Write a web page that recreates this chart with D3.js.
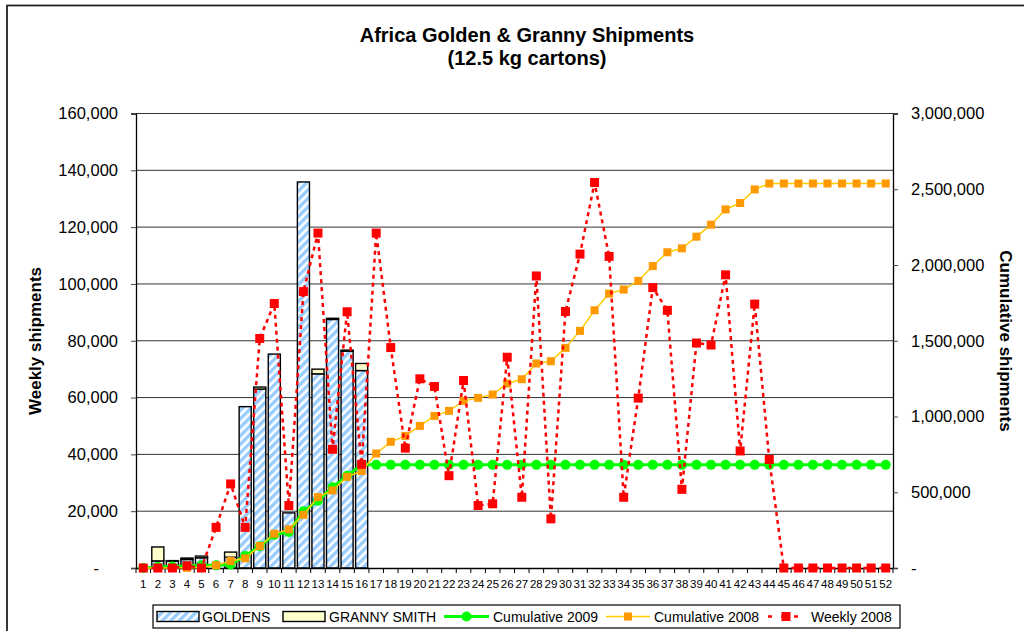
<!DOCTYPE html>
<html>
<head>
<meta charset="utf-8">
<script src="https://cdn.jsdelivr.net/npm/d3@7"></script>
<style>
  body { margin: 0; background: #fff; }
  svg { font-family: "Liberation Sans", Arial, sans-serif; }
</style>
</head>
<body>
<div id="chart"></div>
<script>
// Data
const weeks = [1, 2, 3, 4, 5, 6, 7, 8, 9, 10, 11, 12, 13, 14, 15, 16, 17, 18, 19, 20,
  21, 22, 23, 24, 25, 26, 27, 28, 29, 30, 31, 32, 33, 34, 35, 36, 37, 38, 39, 40,
  41, 42, 43, 44, 45, 46, 47, 48, 49, 50, 51, 52];

const barWeeks = [1, 2, 3, 4, 5, 6, 7, 8, 9, 10, 11, 12, 13, 14, 15, 16];
const goldens = [0, 2500, 2400, 3000, 3600, 0, 3800, 56800, 63000, 75300, 19400,
  135900, 68350, 87500, 76300, 69500];
const grannySmith = [0, 4900, 200, 500, 600, 0, 1800, 0, 700, 0, 0, 0, 1650, 400,
  400, 2500];

const cumulative2009 = [0, 7400, 9900, 13300, 17500, 17500, 23200, 80000, 143700,
  219000, 238400, 374300, 444300, 532200, 608900, 680900, 680900, 680900, 680900,
  680900, 680900, 680900, 680900, 680900, 680900, 680900, 680900, 680900, 680900,
  680900, 680900, 680900, 680900, 680900, 680900, 680900, 680900, 680900, 680900,
  680900, 680900, 680900, 680900, 680900, 680900, 680900, 680900, 680900, 680900,
  680900, 680900, 680900];

const cumulative2008 = [0, 0, 0, 1000, 1000, 17800, 46000, 64000, 145000, 226000,
  255000, 351000, 468000, 512000, 602000, 640000, 756000, 833000, 872000, 938000,
  1004000, 1037000, 1103000, 1123000, 1145000, 1218000, 1246000, 1350000, 1365000,
  1453000, 1565000, 1701000, 1811000, 1838000, 1895000, 1993000, 2084000, 2110000,
  2187000, 2266000, 2367000, 2409000, 2499000, 2538000, 2538000, 2538000, 2538000,
  2538000, 2538000, 2538000, 2538000, 2538000];

const weekly2008 = [0, 0, 0, 800, 0, 14300, 29600, 14300, 80800, 93100, 22000, 97300,
  117900, 41800, 90200, 36500, 117900, 77600, 42200, 66600, 63900, 32500, 66000,
  22000, 22600, 74200, 24900, 102800, 17300, 90300, 110500, 135700, 109700, 24900,
  59800, 98700, 90700, 27700, 79200, 78500, 103200, 41200, 92900, 38200, 0, 0, 0, 0,
  0, 0, 0, 0];

const weeklyTicks = [0, 20000, 40000, 60000, 80000, 100000, 120000, 140000, 160000];
const cumulativeTicks = [0, 500000, 1000000, 1500000, 2000000, 2500000, 3000000];

const titleLines = ["Africa Golden & Granny Shipments", "(12.5 kg cartons)"];

function draw() {
  // Dimensions
  let dimensions = {
    width: 1024,
    height: 631,
    margin: {
      top: 113.5,
      bottom: 63,
      left: 136,
      right: 131,
    },
  };
  dimensions.containerWidth =
    dimensions.width - dimensions.margin.left - dimensions.margin.right;
  dimensions.containerHeight =
    dimensions.height - dimensions.margin.top - dimensions.margin.bottom;

  const svg = d3
    .select("#chart")
    .append("svg")
    .attr("width", dimensions.width)
    .attr("height", dimensions.height);

  // hatch for goldens
  const defs = svg.append("defs");
  const hatch = defs
    .append("pattern")
    .attr("id", "hatch")
    .attr("patternUnits", "userSpaceOnUse")
    .attr("width", 6)
    .attr("height", 6)
    .attr("patternTransform", "rotate(45)");
  hatch.append("rect").attr("width", 6).attr("height", 6).attr("fill", "#fff");
  hatch.append("rect").attr("width", 3.4).attr("height", 6).attr("fill", "#99ccff");

  // chart border
  svg
    .append("rect")
    .attr("x", 7)
    .attr("y", 5.5)
    .attr("width", 1040)
    .attr("height", 660)
    .attr("fill", "none")
    .attr("stroke", "#222")
    .attr("stroke-width", 1.8);

  // Title
  svg
    .append("g")
    .selectAll("text")
    .data(titleLines)
    .join("text")
    .attr("x", 527)
    .attr("y", (d, i) => 42 + i * 23)
    .attr("text-anchor", "middle")
    .attr("font-size", 20)
    .attr("font-weight", "bold")
    .text((d) => d);

  const container = svg
    .append("g")
    .attr(
      "transform",
      `translate(${dimensions.margin.left}, ${dimensions.margin.top})`
    );

  // Scales
  const xScale = d3
    .scaleBand()
    .domain(weeks)
    .range([0, dimensions.containerWidth])
    .paddingInner(0.17)
    .paddingOuter(0.085);
  const yScale = d3
    .scaleLinear()
    .domain([0, 160000])
    .range([dimensions.containerHeight, 0]);
  const yRightScale = d3
    .scaleLinear()
    .domain([0, 3000000])
    .range([dimensions.containerHeight, 0]);

  const cx = (w) => xScale(w) + xScale.bandwidth() / 2;

  // Gridlines
  container
    .append("g")
    .selectAll("line")
    .data(weeklyTicks.slice(1))
    .join("line")
    .attr("x1", 0)
    .attr("x2", dimensions.containerWidth)
    .attr("y1", (d) => yScale(d))
    .attr("y2", (d) => yScale(d))
    .attr("stroke", "#333")
    .attr("stroke-width", 1);

  // Bars
  const table = barWeeks.map((w, i) => ({
    week: w,
    goldens: goldens[i],
    granny: grannySmith[i],
  }));
  const stacked = d3.stack().keys(["goldens", "granny"])(table);
  const fills = { goldens: "url(#hatch)", granny: "#ffffcc" };

  container
    .append("g")
    .selectAll("g")
    .data(stacked)
    .join("g")
    .attr("fill", (s) => fills[s.key])
    .selectAll("rect")
    .data((s) => s.filter((d) => d[1] - d[0] > 0))
    .join("rect")
    .attr("x", (d) => xScale(d.data.week))
    .attr("width", xScale.bandwidth())
    .attr("y", (d) => yScale(d[1]))
    .attr("height", (d) => yScale(d[0]) - yScale(d[1]))
    .attr("stroke", "#000")
    .attr("stroke-width", 1.4);

  // Axes
  const xAxis = d3.axisBottom(xScale).tickSize(0).tickSizeOuter(0);
  const xAxisGroup = container
    .append("g")
    .call(xAxis)
    .attr("transform", `translate(0, ${dimensions.containerHeight})`);
  xAxisGroup.select(".domain").attr("stroke", "#000").attr("stroke-width", 1.3);
  xAxisGroup
    .selectAll("text")
    .attr("y", 20)
    .attr("dy", null)
    .attr("font-size", 11.5)
    .attr("fill", "#000");

  // tick marks between categories
  const step = xScale.step();
  xAxisGroup
    .append("g")
    .selectAll("line")
    .data(weeks.concat([53]))
    .join("line")
    .attr("x1", (d, i) => i * step)
    .attr("x2", (d, i) => i * step)
    .attr("y1", 0)
    .attr("y2", 5)
    .attr("stroke", "#000");

  const yAxis = d3
    .axisLeft(yScale)
    .tickValues(weeklyTicks)
    .tickSize(5)
    .tickPadding(13)
    .tickFormat((d) => (d === 0 ? "-" : d3.format(",")(d)));
  const yAxisGroup = container.append("g").call(yAxis);
  yAxisGroup.select(".domain").attr("stroke", "#000").attr("stroke-width", 1.3);
  yAxisGroup.selectAll(".tick line").attr("stroke", "#444");
  yAxisGroup
    .selectAll("text")
    .attr("font-size", 16.5)
    .attr("fill", "#000")
    .filter((d) => d === 0)
    .attr("x", -37);

  const yRightAxis = d3
    .axisRight(yRightScale)
    .tickValues(cumulativeTicks)
    .tickSize(5)
    .tickPadding(13)
    .tickFormat((d) => (d === 0 ? "-" : d3.format(",")(d)));
  const yRightGroup = container
    .append("g")
    .attr("transform", `translate(${dimensions.containerWidth}, 0)`)
    .call(yRightAxis);
  yRightGroup.select(".domain").attr("stroke", "#000").attr("stroke-width", 1.3);
  yRightGroup.selectAll(".tick line").attr("stroke", "#444");
  yRightGroup.selectAll("text").attr("font-size", 16.5).attr("fill", "#000");

  // Axis titles
  svg
    .append("text")
    .attr("transform", `translate(41, 341) rotate(-90)`)
    .attr("text-anchor", "middle")
    .attr("font-size", 17)
    .attr("font-weight", "bold")
    .text("Weekly shipments");
  svg
    .append("text")
    .attr("transform", `translate(1000, 341) rotate(90)`)
    .attr("text-anchor", "middle")
    .attr("font-size", 17)
    .attr("font-weight", "bold")
    .text("Cumulative shipments");

  // Lines
  const cumLine = d3
    .line()
    .x((d, i) => cx(weeks[i]))
    .y((d) => yRightScale(d));
  const weeklyLine = d3
    .line()
    .x((d, i) => cx(weeks[i]))
    .y((d) => yScale(d));

  // Cumulative 2009
  container
    .append("path")
    .attr("d", cumLine(cumulative2009))
    .attr("fill", "none")
    .attr("stroke", "#00ff00")
    .attr("stroke-width", 3);
  container
    .append("g")
    .selectAll("circle")
    .data(cumulative2009)
    .join("circle")
    .attr("cx", (d, i) => cx(weeks[i]))
    .attr("cy", (d) => yRightScale(d))
    .attr("r", 5)
    .attr("fill", "#00ff00");

  // Cumulative 2008
  container
    .append("path")
    .attr("d", cumLine(cumulative2008))
    .attr("fill", "none")
    .attr("stroke", "#ffcc00")
    .attr("stroke-width", 1.5);
  container
    .append("g")
    .selectAll("rect")
    .data(cumulative2008)
    .join("rect")
    .attr("x", (d, i) => cx(weeks[i]) - 4)
    .attr("y", (d) => yRightScale(d) - 4)
    .attr("width", 8)
    .attr("height", 8)
    .attr("fill", "#ff9900");

  // Weekly 2008
  container
    .append("path")
    .attr("d", weeklyLine(weekly2008))
    .attr("fill", "none")
    .attr("stroke", "#ff0000")
    .attr("stroke-width", 2.5)
    .attr("stroke-dasharray", "4,4");
  container
    .append("g")
    .selectAll("rect")
    .data(weekly2008)
    .join("rect")
    .attr("x", (d, i) => cx(weeks[i]) - 4.5)
    .attr("y", (d) => yScale(d) - 4.5)
    .attr("width", 9)
    .attr("height", 9)
    .attr("fill", "#ff0000");

  // Legend
  const legend = svg.append("g").attr("font-size", 14);
  legend
    .append("rect")
    .attr("x", 153)
    .attr("y", 605)
    .attr("width", 747)
    .attr("height", 23)
    .attr("fill", "#fff")
    .attr("stroke", "#000")
    .attr("stroke-width", 1.2);

  const legendY = 616.5;
  // bar swatches
  legend
    .append("rect")
    .attr("x", 157)
    .attr("y", legendY - 5)
    .attr("width", 42)
    .attr("height", 10)
    .attr("fill", "url(#hatch)")
    .attr("stroke", "#000")
    .attr("stroke-width", 1.4);
  legend
    .append("rect")
    .attr("x", 283)
    .attr("y", legendY - 5)
    .attr("width", 42)
    .attr("height", 10)
    .attr("fill", "#ffffcc")
    .attr("stroke", "#000")
    .attr("stroke-width", 1.4);
  // green
  legend
    .append("line")
    .attr("x1", 444).attr("x2", 489)
    .attr("y1", legendY).attr("y2", legendY)
    .attr("stroke", "#00ff00").attr("stroke-width", 3);
  legend
    .append("circle")
    .attr("cx", 466.5).attr("cy", legendY).attr("r", 5)
    .attr("fill", "#00ff00");
  // orange
  legend
    .append("line")
    .attr("x1", 606).attr("x2", 650)
    .attr("y1", legendY).attr("y2", legendY)
    .attr("stroke", "#ffcc00").attr("stroke-width", 1.5);
  legend
    .append("rect")
    .attr("x", 624).attr("y", legendY - 4).attr("width", 8).attr("height", 8)
    .attr("fill", "#ff9900");
  // red
  legend
    .append("line")
    .attr("x1", 768).attr("x2", 804)
    .attr("y1", legendY).attr("y2", legendY)
    .attr("stroke", "#ff0000").attr("stroke-width", 2.5)
    .attr("stroke-dasharray", "4,9");
  legend
    .append("rect")
    .attr("x", 781.5).attr("y", legendY - 4.5).attr("width", 9).attr("height", 9)
    .attr("fill", "#ff0000");

  const legendLabels = [
    { x: 202, text: "GOLDENS" },
    { x: 329, text: "GRANNY SMITH" },
    { x: 493, text: "Cumulative 2009" },
    { x: 654, text: "Cumulative 2008" },
    { x: 811, text: "Weekly 2008" },
  ];
  legend
    .selectAll(".label")
    .data(legendLabels)
    .join("text")
    .attr("class", "label")
    .attr("x", (d) => d.x)
    .attr("y", legendY + 5)
    .text((d) => d.text);
}

draw();
</script>
</body>
</html>
